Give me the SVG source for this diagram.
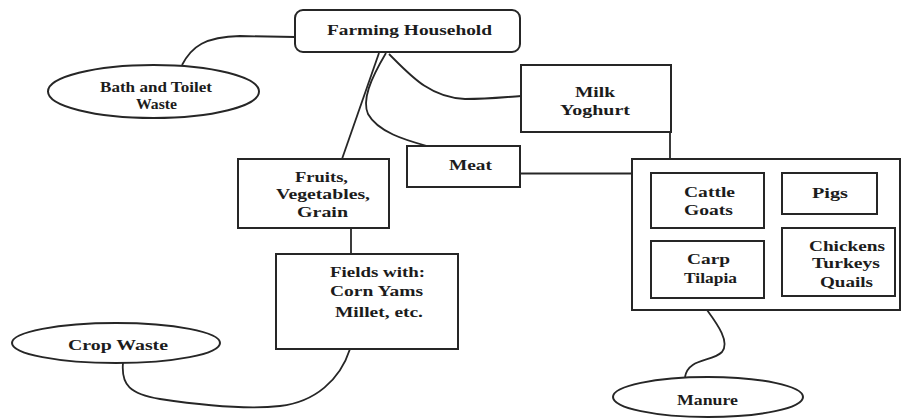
<svg xmlns="http://www.w3.org/2000/svg" width="903" height="418" viewBox="0 0 903 418">
<style>
.box{fill:#fff;stroke:#262626;stroke-width:2}
.conn{fill:none;stroke:#262626;stroke-width:1.8}
text{font-family:"Liberation Serif","Times New Roman",serif;font-weight:bold;font-size:14px;fill:#1c1c1c}
</style>
<rect width="903" height="418" fill="#fff"/>
<g id="connectors">
<path class="conn" d="M182,65 C192,46 205,37 240,36 L295,37"/>
<path class="conn" d="M379,53 L342,159"/>
<path class="conn" d="M386,53 C370,80 362,100 368,114 C378,132 405,140 427,146"/>
<path class="conn" d="M389,54 C410,75 430,98 465,99 C490,99 505,97 521,96"/>
<path class="conn" d="M670,132 L670,159"/>
<path class="conn" d="M520,173.5 L632,173.5"/>
<path class="conn" d="M351,228 L351,254"/>
<path class="conn" d="M123,363 C121,385 130,394 160,399 C200,405 245,410 280,406 C315,402 340,380 350,349"/>
<path class="conn" d="M707,310 C718,325 730,342 722,352 C712,362 688,358 685,377"/>
</g>
<g id="farming-household">
<rect class="box" x="295" y="10" width="225" height="42" rx="8"/>
<text x="327" y="35" textLength="165" lengthAdjust="spacingAndGlyphs">Farming Household</text>
</g>
<g id="bath-toilet-waste">
<ellipse class="box" cx="153.5" cy="91.5" rx="105.5" ry="26.5"/>
<text x="100" y="92" textLength="112" lengthAdjust="spacingAndGlyphs">Bath and Toilet</text>
<text x="136" y="109" textLength="41" lengthAdjust="spacingAndGlyphs">Waste</text>
</g>
<g id="milk-yoghurt">
<rect class="box" x="521" y="65" width="150" height="67"/>
<text x="575" y="97" textLength="40" lengthAdjust="spacingAndGlyphs">Milk</text>
<text x="560" y="115" textLength="70" lengthAdjust="spacingAndGlyphs">Yoghurt</text>
</g>
<g id="meat">
<rect class="box" x="407" y="146" width="113" height="41"/>
<text x="449" y="170" textLength="43" lengthAdjust="spacingAndGlyphs">Meat</text>
</g>
<g id="fruits">
<rect class="box" x="238" y="159" width="151" height="69"/>
<text x="295" y="182" textLength="53" lengthAdjust="spacingAndGlyphs">Fruits,</text>
<text x="276" y="199" textLength="94" lengthAdjust="spacingAndGlyphs">Vegetables,</text>
<text x="297" y="217" textLength="51" lengthAdjust="spacingAndGlyphs">Grain</text>
</g>
<g id="fields">
<rect class="box" x="276" y="254" width="182" height="95"/>
<text x="330" y="277" textLength="95" lengthAdjust="spacingAndGlyphs">Fields with:</text>
<text x="330" y="296" textLength="93" lengthAdjust="spacingAndGlyphs">Corn Yams</text>
<text x="335" y="317" textLength="88" lengthAdjust="spacingAndGlyphs">Millet, etc.</text>
</g>
<g id="crop-waste">
<ellipse class="box" cx="116" cy="343" rx="104" ry="20"/>
<text x="68" y="350" textLength="100" lengthAdjust="spacingAndGlyphs">Crop Waste</text>
</g>
<g id="livestock">
<rect class="box" x="632" y="159" width="268" height="151"/>
</g>
<g id="cattle-goats">
<rect class="box" x="651" y="173" width="113" height="55"/>
<text x="684" y="197" textLength="51" lengthAdjust="spacingAndGlyphs">Cattle</text>
<text x="684" y="215" textLength="49" lengthAdjust="spacingAndGlyphs">Goats</text>
</g>
<g id="pigs">
<rect class="box" x="782" y="173" width="95" height="41"/>
<text x="812" y="198" textLength="36" lengthAdjust="spacingAndGlyphs">Pigs</text>
</g>
<g id="carp-tilapia">
<rect class="box" x="651" y="241" width="113" height="57"/>
<text x="687" y="264" textLength="43" lengthAdjust="spacingAndGlyphs">Carp</text>
<text x="684" y="283" textLength="53" lengthAdjust="spacingAndGlyphs">Tilapia</text>
</g>
<g id="poultry">
<rect class="box" x="782" y="228" width="113" height="68"/>
<text x="809" y="251" textLength="76" lengthAdjust="spacingAndGlyphs">Chickens</text>
<text x="812" y="268" textLength="68" lengthAdjust="spacingAndGlyphs">Turkeys</text>
<text x="820" y="287" textLength="53" lengthAdjust="spacingAndGlyphs">Quails</text>
</g>
<g id="manure">
<ellipse class="box" cx="708" cy="397" rx="95" ry="20"/>
<text x="677" y="405" textLength="61" lengthAdjust="spacingAndGlyphs">Manure</text>
</g>
</svg>
